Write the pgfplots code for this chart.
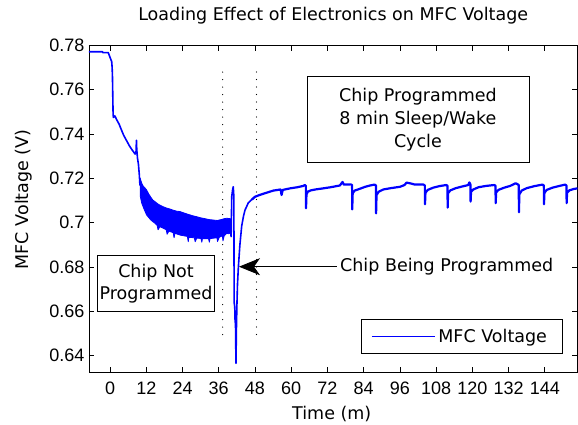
\documentclass[border=0pt]{standalone}
\usepackage{pgfplots}
\pgfplotsset{compat=1.18}
\usepackage{fontspec}
\setmainfont{DejaVu Sans}
\newfontfamily\tickfamily{Liberation Sans}
\usetikzlibrary{arrows.meta}
\newcommand\tfont{\fontsize{17.5}{22}\selectfont}
\newcommand\tkfont{\tickfamily\fontsize{18}{22}\selectfont}

\begin{document}
\begin{tikzpicture}
\begin{axis}[
  at={(88.9pt,51.3pt)}, anchor=south west,
  scale only axis, width=488.6pt, height=327.2pt,
  xmin=-7, xmax=154.8, ymin=0.63227, ymax=0.78,
  axis line style={line width=0.8pt, black},
  tick align=inside, major tick length=5.5pt,
  tick style={line width=0.8pt, black},
  tick pos=both,
  xtick={0,12,...,144},
  ytick={0.64,0.66,0.68,0.7,0.72,0.74,0.76,0.78},
  yticklabels={0.64,0.66,0.68,0.7,0.72,0.74,0.76,0.78},
  /pgf/number format/assume math mode=true,
  xticklabel style={font=\tkfont, yshift=-5.9pt},
  yticklabel style={font=\tkfont, xshift=-1pt},
  title={Loading Effect of Electronics on MFC Voltage},
  title style={at={(axis description cs:0.5,1)}, anchor=base, yshift=18.8pt, font=\tfont, inner sep=0pt},
  xlabel={Time (m)},
  xlabel style={at={(axis description cs:0.497,0)}, anchor=base, yshift=-46.8pt, font=\tfont, inner sep=0pt},
  ylabel={MFC Voltage (V)},
  ylabel style={at={(axis description cs:-0.1238,0.53)}, anchor=base, font=\tfont, inner sep=0pt},
]
% dotted marker lines
\addplot[black, line width=1.3pt, dash pattern=on 0pt off 7.5pt, line cap=round]
  coordinates {(37.3,0.768) (37.3,0.6485)};
\addplot[black, line width=1.3pt, dash pattern=on 0pt off 7.5pt, line cap=round]
  coordinates {(48.5,0.768) (48.5,0.6480)};

% initial decline
\addplot[blue, line width=1.6pt, line join=round] coordinates {
(-7,0.7772) (-2.5,0.7772) (-2.4,0.7768) (-0.6,0.7768) (0.55,0.7727) (0.7,0.7700) (0.8,0.7660)
(1.0,0.7500) (1.1,0.7475) (1.6,0.7482) (2.2,0.7465) (3.0,0.7445) (3.5,0.7428) (4.5,0.7395)
(5.5,0.7370) (6.5,0.7345) (7.5,0.7325) (8.3,0.7310) (8.6,0.7318) (8.75,0.7372) (8.85,0.7330)
(9.1,0.7290) (9.4,0.7265) (9.7,0.7215) (9.9,0.7170) (10.2,0.7180)
};

% noisy band before programming
\addplot[blue, fill=blue, line width=0.8pt, line join=round] coordinates {
(10.0,0.7200) (10.5,0.7178) (11.0,0.7165) (11.5,0.7158) (12.1,0.7148) (12.8,0.7130) (13.5,0.7115)
(14.2,0.7102) (14.9,0.7095) (15.8,0.7085) (16.7,0.7078) (17.6,0.7072) (18.7,0.7066) (19.8,0.7062)
(21,0.7056) (22.1,0.7052) (23.2,0.7050) (24.5,0.7044) (25.8,0.7038) (27.2,0.7032) (28.7,0.7027)
(30,0.7022) (31.5,0.7018) (32.8,0.7014) (34.2,0.7012) (35.5,0.7010) (36.8,0.7014) (37.8,0.7018)
(38.6,0.7020) (39.9,0.7018)
(39.9,0.6955) (39.3,0.6950) (38.6,0.6952) (37.8,0.6940) (37.4,0.6918) (37.2,0.6940) (36.2,0.6935)
(35.6,0.6915) (35.4,0.6932) (34.2,0.6930) (33.1,0.6928) (32.9,0.6912) (32.6,0.6928) (30.6,0.6928)
(30.4,0.6912) (30.1,0.6929) (28.7,0.6930) (28.2,0.6914) (27.9,0.6932) (26.1,0.6934) (25.9,0.6914)
(25.6,0.6938) (23.2,0.6944) (21.5,0.6952) (21.2,0.6932) (20.9,0.6955) (19.5,0.6962) (18.9,0.6948)
(18.6,0.6968) (17.6,0.6975) (16.5,0.6982) (15.9,0.6968) (15.6,0.6988) (14.9,0.6997) (13.5,0.7012)
(12.1,0.7035) (11.3,0.7060) (10.5,0.7088) (10.0,0.7120)
} -- cycle;

% programming event and recovery
\addplot[blue, line width=1.6pt, line join=round] coordinates {
(39.9,0.6960) (40.1,0.6937) (40.3,0.7117) (40.6,0.7150) (40.8,0.7162) (41.0,0.7120) (41.1,0.6640)
(41.3,0.6620) (41.4,0.6560) (41.55,0.6540) (41.7,0.6365) (41.85,0.6520) (42.0,0.6620) (42.2,0.6720)
(42.5,0.6801) (43.0,0.6900) (43.6,0.6985) (44.2,0.7030) (44.7,0.7057) (45.8,0.7090) (47.0,0.7105)
(48.0,0.7117)
};

% sleep/wake cycles
\addplot[blue, line width=2.2pt, line join=round] coordinates {
(47.0,0.7105) (48.0,0.7117) (49.5,0.7125) (51.3,0.7133) (54.1,0.7145) (56.5,0.7150) (56.8,0.7125)
(57.2,0.7148) (59.6,0.7155) (62,0.7160) (64.0,0.7166)
(64.5,0.7170) (64.85,0.7166) (64.9,0.7065) (65.05,0.7128) (65.5,0.7140) (66.5,0.7146) (68,0.7150)
(70.6,0.7155) (73,0.7160) (76.1,0.7168) (77.0,0.7184) (77.4,0.7172) (79.7,0.7173) (80.15,0.7170)
(80.2,0.7060) (80.35,0.7132) (81,0.7145) (82.5,0.7152) (84.5,0.7162) (86.1,0.7168) (87.6,0.7172)
(88.05,0.7168) (88.1,0.7042) (88.25,0.7125) (89,0.7140) (90.5,0.7150) (93,0.7156) (96,0.7162)
(97.5,0.7170) (98.2,0.7181) (99.3,0.7178) (101,0.7172) (103.8,0.7172) (104.25,0.7168) (104.3,0.7083)
(104.45,0.7135) (105.2,0.7148) (107,0.7158) (109,0.7165) (111.3,0.7170) (111.75,0.7167) (111.8,0.7068)
(111.95,0.7133) (112.7,0.7146) (114.5,0.7156) (116.5,0.7163) (118.6,0.7170) (119.0,0.7182)
(119.35,0.7172) (119.4,0.7095) (119.55,0.7140) (120.3,0.7150) (122,0.7160) (124.5,0.7166)
(127.2,0.7170) (127.65,0.7167) (127.7,0.7088) (127.85,0.7136) (128.6,0.7148) (130.5,0.7158)
(132.5,0.7166) (134.3,0.7178) (134.9,0.7174) (135.35,0.7170) (135.4,0.7047) (135.55,0.7128)
(136.3,0.7145) (138,0.7156) (140.5,0.7165) (143.2,0.7172) (143.65,0.7168) (143.7,0.7083)
(143.85,0.7135) (144.6,0.7148) (146.5,0.7158) (148.5,0.7165) (150.7,0.7172) (151.15,0.7168)
(151.2,0.7088) (151.35,0.7135) (152.1,0.7146) (153.5,0.7152) (154.8,0.7155)
};

% legend sample line (drawn through the axis)
\addplot[blue, line width=1.4pt] coordinates {(86.73,0.64871) (107.59,0.64871)};

% annotations
\node[draw=black, line width=0.8pt, fill=white, align=center, minimum width=222pt, minimum height=85.8pt,
  inner sep=1pt, font=\fontsize{17.5}{23.3}\selectfont] at (axis cs:101.96,0.74654)
  {Chip Programmed\\8 min Sleep/Wake\\Cycle};
\node[draw=black, line width=0.8pt, fill=white, align=center, minimum width=116.6pt, minimum height=56.7pt,
  inner sep=1pt, font=\fontsize{17.5}{22}\selectfont] at (axis cs:15.23,0.67259)
  {Chip Not\\Programmed};
\draw[-{Stealth[length=21pt,width=17pt,inset=6pt]}, line width=0.8pt, black]
  (axis cs:75.15,0.68013) -- (axis cs:42.70,0.68013);
\node[anchor=west, inner sep=0pt, font=\tfont] at (axis cs:76.14,0.68013) {Chip Being Programmed};

% legend box and text
\node[draw=black, line width=0.8pt, minimum width=201pt, minimum height=34pt,
  anchor=south east, inner sep=0pt] (leg) at (rel axis cs:0.9703,0.0593) {};
\node[anchor=base west, inner sep=0pt, font=\tfont] at ([xshift=77pt,yshift=-6.6pt]leg.west) {MFC Voltage};
\end{axis}
\pgfresetboundingbox
\useasboundingbox (0,0) rectangle (578pt,424pt);
\end{tikzpicture}
\end{document}
